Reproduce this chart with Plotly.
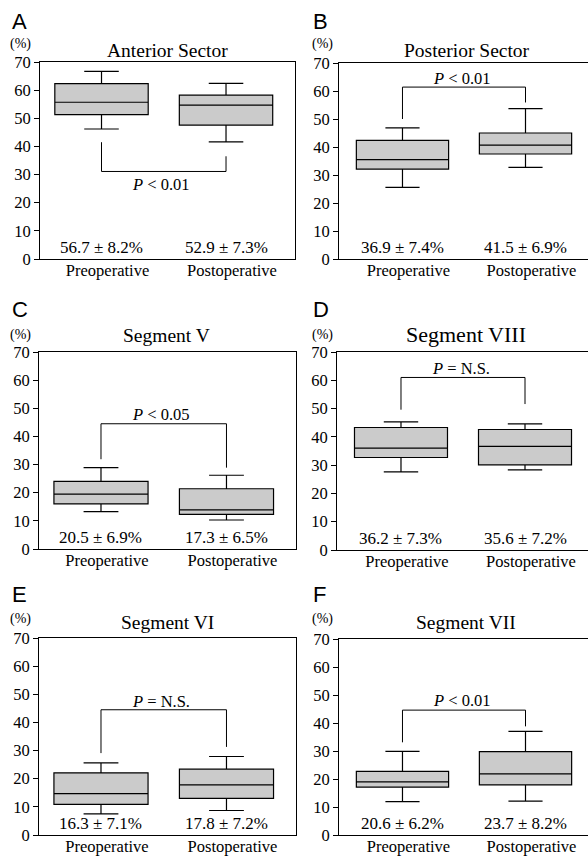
import plotly.graph_objects as go

# ---- data ----
groups = ["Preoperative", "Postoperative"]
panel_letters = ["A", "B", "C", "D", "E", "F"]
panel_titles = ["Anterior Sector", "Posterior Sector", "Segment V",
                "Segment VIII", "Segment VI", "Segment VII"]

upper_whisker = [[66.7, 62.4], [46.8, 53.7], [28.9, 26.2], [45.3, 44.6], [25.6, 27.9], [29.9, 37.0]]
q3_values     = [[62.3, 58.2], [42.4, 45.0], [24.0, 21.4], [43.3, 42.6], [22.1, 23.4], [22.7, 29.8]]
medians       = [[55.7, 54.7], [35.5, 40.7], [19.5, 13.9], [36.0, 36.6], [14.7, 17.8], [19.0, 21.8]]
q1_values     = [[51.3, 47.6], [32.1, 37.5], [16.0, 12.3], [32.7, 30.1], [10.9, 13.0], [17.1, 17.9]]
lower_whisker = [[46.2, 41.6], [25.6, 32.7], [13.3, 10.3], [27.6, 28.3], [7.5, 8.7], [11.9, 12.1]]

mean_sd_text = [["56.7 ± 8.2%", "52.9 ± 7.3%"], ["36.9 ± 7.4%", "41.5 ± 6.9%"],
                ["20.5 ± 6.9%", "17.3 ± 6.5%"], ["36.2 ± 7.3%", "35.6 ± 7.2%"],
                ["16.3 ± 7.1%", "17.8 ± 7.2%"], ["20.6 ± 6.2%", "23.7 ± 8.2%"]]

p_text = ["<i>P</i> &lt; 0.01", "<i>P</i> &lt; 0.01", "<i>P</i> &lt; 0.05",
          "<i>P</i> = N.S.", "<i>P</i> = N.S.", "<i>P</i> &lt; 0.01"]
bracket_level    = [31.1, 61.4, 44.5, 61.0, 44.5, 44.6]
bracket_pre_end  = [41.5, 50.0, 31.9, 49.6, 29.1, 33.1]
bracket_post_end = [36.5, 55.9, 28.9, 51.6, 31.3, 38.8]
p_text_y         = [26.6, 64.3, 47.9, 64.1, 47.5, 47.9]

y_ticks = [0, 10, 20, 30, 40, 50, 60, 70]

# ---- layout geometry (pixels) ----
W, H = 588, 856
panel_px = [  # left, right, top, bottom of plot area
    (40, 295, 62, 259), (339, 588, 63, 259),
    (39, 296, 352, 549), (337, 588, 352, 550),
    (39, 296, 638, 835), (339, 588, 639, 835),
]
x_ranges = [(-0.494, 1.554), (-0.516, 1.508), (-0.494, 1.554),
            (-0.516, 1.508), (-0.494, 1.554), (-0.516, 1.508)]
title_xy  = [(167, 50), (467, 50), (166, 335), (466, 334), (167, 622), (466, 622)]
pct_xy    = [(20, 44), (322, 44), (20, 335), (322, 335), (20, 619), (322, 619)]
letter_xy = [(10, 22), (311, 22), (10, 309), (311, 309), (10, 594), (311, 594)]

SERIF = "Liberation Serif, Times New Roman, serif"
SANS = "Liberation Sans, Arial, sans-serif"

fig = go.Figure()
layout = dict(template="none", width=W, height=H,
              margin=dict(l=0, r=0, t=0, b=0, pad=0),
              paper_bgcolor="white", plot_bgcolor="white", showlegend=False,
              font=dict(family=SERIF, color="black"))
annotations = []

def px(x, y):
    return x / W, 1 - y / H

for i in range(6):
    n = "" if i == 0 else str(i + 1)
    xa, ya = "x" + n, "y" + n
    L, R, T, B = panel_px[i]
    right_col = (i % 2 == 1)
    layout["xaxis" + n] = dict(
        domain=[L / W, R / W], type="category", range=list(x_ranges[i]),
        anchor=ya, showline=True, linecolor="black", linewidth=1,
        mirror=True, ticks="", showgrid=False, zeroline=False, automargin=False,
        tickfont=dict(family=SERIF, size=16.5, color="black"),
        ticklabelshift=6, ticklabelstandoff=-4,
        categoryorder="array", categoryarray=groups,
    )
    layout["yaxis" + n] = dict(
        domain=[1 - B / H, 1 - T / H], range=[0, 70], anchor=xa,
        tickvals=y_ticks, showline=True, linecolor="black", linewidth=1,
        mirror=(not right_col), ticks="outside", ticklen=5, tickcolor="black",
        showgrid=False, zeroline=False, automargin=False,
        tickfont=dict(family=SERIF, size=16.5, color="black"),
    )
    for g in range(2):
        fig.add_trace(go.Box(
            x=[groups[g]], q1=[q1_values[i][g]], median=[medians[i][g]],
            q3=[q3_values[i][g]], lowerfence=[lower_whisker[i][g]],
            upperfence=[upper_whisker[i][g]], xaxis=xa, yaxis=ya,
            width=0.75, whiskerwidth=0.37, fillcolor="#cbcbcb",
            line=dict(color="black", width=1.2), boxpoints=False,
            hoverinfo="skip",
        ))
        annotations.append(dict(
            x=g, y=4.0, xref=xa, yref=ya, text=mean_sd_text[i][g],
            showarrow=False, yanchor="middle",
            font=dict(family=SERIF, size=17, color="black")))
    # bracket
    fig.add_trace(go.Scatter(
        x=[groups[0], groups[0], groups[1], groups[1]],
        y=[bracket_pre_end[i], bracket_level[i], bracket_level[i], bracket_post_end[i]],
        mode="lines", line=dict(color="black", width=1), xaxis=xa, yaxis=ya,
        hoverinfo="skip"))
    annotations.append(dict(
        x=0.48, y=p_text_y[i], xref=xa, yref=ya, text=p_text[i],
        showarrow=False, yanchor="middle",
        font=dict(family=SERIF, size=16.5, color="black")))
    # title
    tx, ty = px(*title_xy[i])
    annotations.append(dict(
        x=tx, y=ty, xref="paper", yref="paper", text=panel_titles[i],
        showarrow=False, xanchor="center", yanchor="middle",
        font=dict(family=SERIF, size=22 if i == 3 else 19.5, color="black")))
    # (%) label
    cx, cy = px(*pct_xy[i])
    annotations.append(dict(
        x=cx, y=cy, xref="paper", yref="paper", text="(%)", showarrow=False,
        xanchor="center", yanchor="middle",
        font=dict(family=SERIF, size=14, color="black")))
    # panel letter
    lx, ly = px(*letter_xy[i])
    annotations.append(dict(
        x=lx, y=ly, xref="paper", yref="paper", text=panel_letters[i],
        showarrow=False, xanchor="left", yanchor="middle",
        font=dict(family=SANS, size=22, color="black")))

layout["annotations"] = annotations
fig.update_layout(**layout)
fig.write_html("out.html", config={"displayModeBar": False},
               post_script="document.body.style.margin='0';")
